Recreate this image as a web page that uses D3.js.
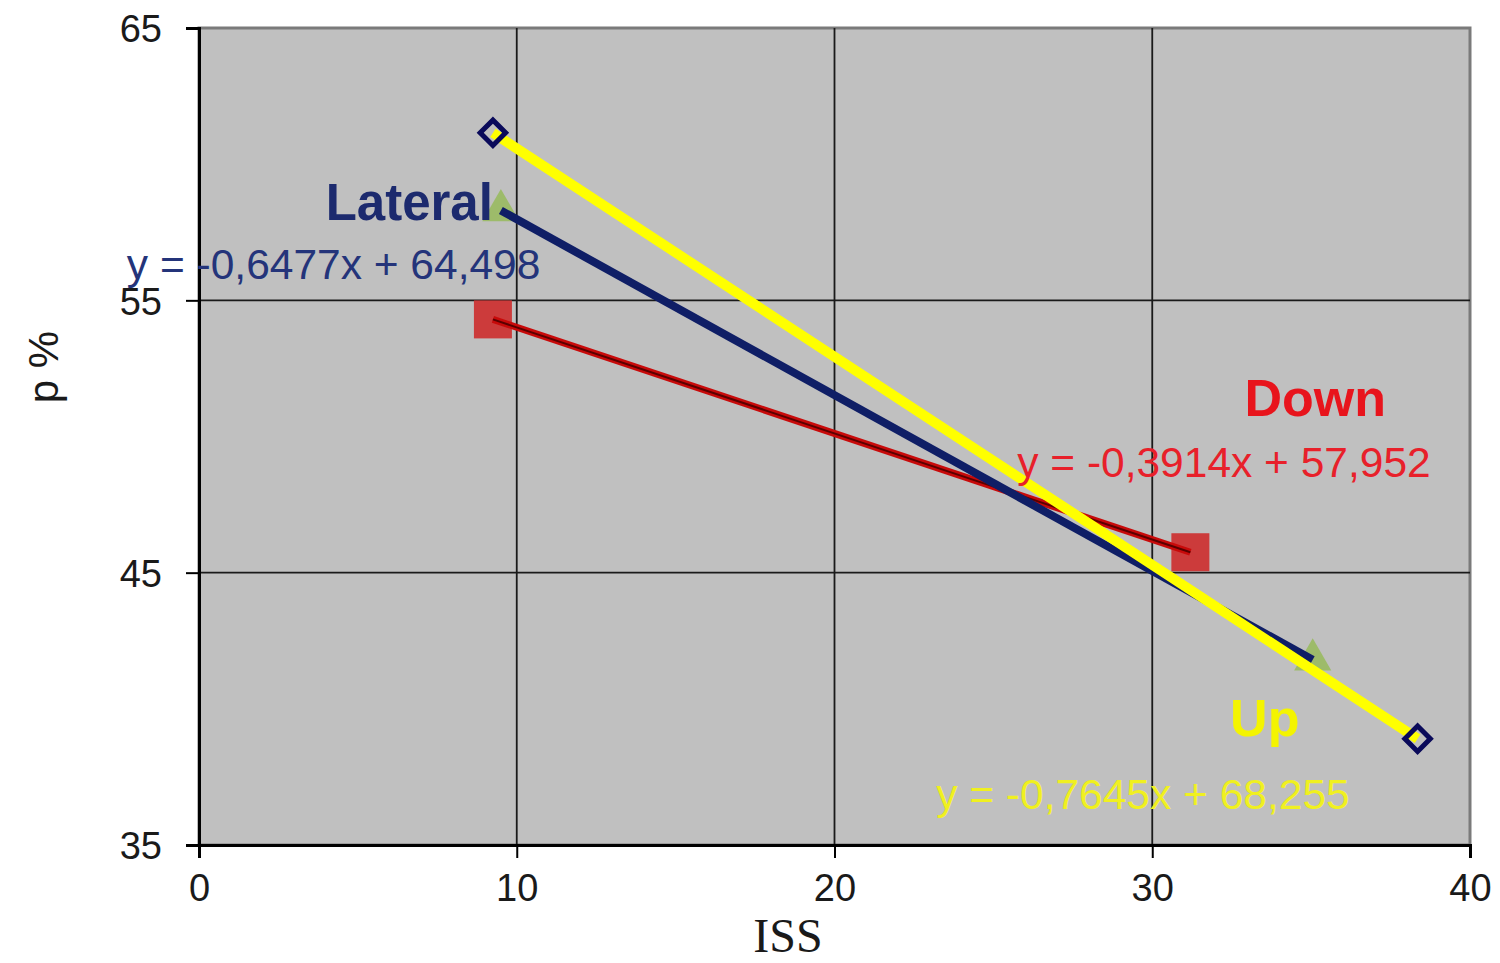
<!DOCTYPE html>
<html>
<head>
<meta charset="utf-8">
<script src="https://cdn.jsdelivr.net/npm/d3@7"></script>
<style>
  body { margin: 0; background: #fff; }
  text { font-family: "Liberation Sans", Arial, sans-serif; }
</style>
</head>
<body>
<div id="chart"></div>
<script>
// values
const xTicks = [0, 10, 20, 30, 40];
const yTicks = [35, 45, 55, 65];

// Up (diamonds + yellow trend)
const upX = [9.25, 38.35];
const upY = [61.15, 38.9];
// Lateral (triangles + navy trend)
const latX = [9.5, 35.05];
const latY = [58.3, 41.8];
// Down (squares + red trend)
const downX = [9.25, 31.2];
const downY = [54.3, 45.75];

// annotation labels: text, x, y (data units), colour, weight, anchor, font size
const labels = [
  ["Lateral", 9.25, 57.95, "#1c2a6e", "bold", "end", 51],
  ["y = -0,6477x + 64,498", -2.27, 55.8, "#24347a", "normal", "start", 42.5],
  ["Down", 32.9, 50.77, "#e8141c", "bold", "start", 52],
  ["y = -0,3914x + 57,952", 25.75, 48.5, "#e8202a", "normal", "start", 42.5],
  ["Up", 32.45, 39.0, "#f4f400", "bold", "start", 52],
  ["y = -0,7645x + 68,255", 23.2, 36.32, "#f0f020", "normal", "start", 42.5]
];

const width = 1500, height = 963;
const plotLeft = 199, plotRight = 1470, plotTop = 28, plotBottom = 845;

const svg = d3.select("#chart")
  .append("svg")
  .attr("width", width)
  .attr("height", height);

const x = d3.scaleLinear().domain([0, 40]).range([plotLeft, plotRight]);
const y = d3.scaleLinear().domain([35, 65]).range([plotBottom, plotTop]);

// plot area
svg.append("rect")
  .attr("x", plotLeft).attr("y", plotTop)
  .attr("width", plotRight - plotLeft).attr("height", plotBottom - plotTop)
  .attr("fill", "#c0c0c0")
  .attr("stroke", "#7a7a7a")
  .attr("stroke-width", 3);

// grid
svg.selectAll(".vgrid")
  .data(xTicks.slice(1, -1))
  .enter().append("line")
  .attr("x1", d => x(d)).attr("x2", d => x(d))
  .attr("y1", plotTop).attr("y2", plotBottom)
  .attr("stroke", "#1a1a1a").attr("stroke-width", 1.8);

svg.selectAll(".hgrid")
  .data(yTicks.slice(1, -1))
  .enter().append("line")
  .attr("x1", plotLeft).attr("x2", plotRight)
  .attr("y1", d => y(d)).attr("y2", d => y(d))
  .attr("stroke", "#1a1a1a").attr("stroke-width", 1.8);

// axes
const xAxis = svg.append("g")
  .attr("transform", `translate(0,${plotBottom})`)
  .call(d3.axisBottom(x).tickValues(xTicks).tickSize(13).tickPadding(16));
const yAxis = svg.append("g")
  .attr("transform", `translate(${plotLeft},0)`)
  .call(d3.axisLeft(y).tickValues(yTicks).tickSize(13).tickPadding(24));

[xAxis, yAxis].forEach(g => {
  g.select(".domain").attr("stroke", "#000").attr("stroke-width", 3);
  g.selectAll(".tick line").attr("stroke", "#000").attr("stroke-width", 2);
  g.selectAll(".tick text")
    .attr("fill", "#1a1a1a")
    .style("font-size", "38px")
    .style("font-family", "'Liberation Sans', Arial, sans-serif");
});
yAxis.selectAll(".tick text").attr("dy", "0.36em");

// axis titles
svg.append("text")
  .attr("x", 788).attr("y", 952)
  .attr("text-anchor", "middle")
  .style("font-family", "'Liberation Serif', 'Times New Roman', serif")
  .style("font-size", "48px")
  .attr("fill", "#1a1a1a")
  .text("ISS");

svg.append("text")
  .attr("transform", "translate(58,367) rotate(-90)")
  .attr("text-anchor", "middle")
  .style("font-size", "42px")
  .attr("fill", "#1a1a1a")
  .text("p %");

const line = d3.line().x(d => x(d[0])).y(d => y(d[1]));

// Lateral triangles
const tri = d3.symbol().type(d3.symbolTriangle).size(600);
svg.selectAll(".tri")
  .data(d3.zip(latX, latY))
  .enter().append("path")
  .attr("d", tri)
  .attr("transform", d => `translate(${x(d[0])},${y(d[1])})`)
  .attr("fill", "#9dbb6a");

// Down squares
svg.selectAll(".sq")
  .data(d3.zip(downX, downY))
  .enter().append("rect")
  .attr("x", d => x(d[0]) - 19).attr("y", d => y(d[1]) - 19)
  .attr("width", 38).attr("height", 38)
  .attr("fill", "#cc3b3b");

// Down trend
svg.append("path")
  .datum(d3.zip(downX, downY))
  .attr("d", line)
  .attr("fill", "none")
  .attr("stroke", "#c80a0a")
  .attr("stroke-width", 7);
svg.append("path")
  .datum(d3.zip(downX, downY))
  .attr("d", line)
  .attr("fill", "none")
  .attr("stroke", "#5a0000")
  .attr("stroke-width", 2);

// Lateral trend
svg.append("path")
  .datum(d3.zip(latX, latY))
  .attr("d", line)
  .attr("fill", "none")
  .attr("stroke", "#0f1e66")
  .attr("stroke-width", 8);

// Up trend
svg.append("path")
  .datum(d3.zip(upX, upY))
  .attr("d", line)
  .attr("fill", "none")
  .attr("stroke", "#ffff00")
  .attr("stroke-width", 10);

// Up diamonds (hollow)
svg.selectAll(".dia")
  .data(d3.zip(upX, upY))
  .enter().append("rect")
  .attr("x", -9).attr("y", -9)
  .attr("width", 18).attr("height", 18)
  .attr("transform", d => `translate(${x(d[0])},${y(d[1])}) rotate(45)`)
  .attr("fill", "none")
  .attr("stroke", "#0a0a5a")
  .attr("stroke-width", 5);

// labels
svg.selectAll(".lbl")
  .data(labels)
  .enter().append("text")
  .attr("x", d => x(d[1]))
  .attr("y", d => y(d[2]))
  .attr("fill", d => d[3])
  .attr("font-weight", d => d[4])
  .attr("text-anchor", d => d[5])
  .style("font-size", d => d[6] + "px")
  .text(d => d[0]);
</script>
</body>
</html>
